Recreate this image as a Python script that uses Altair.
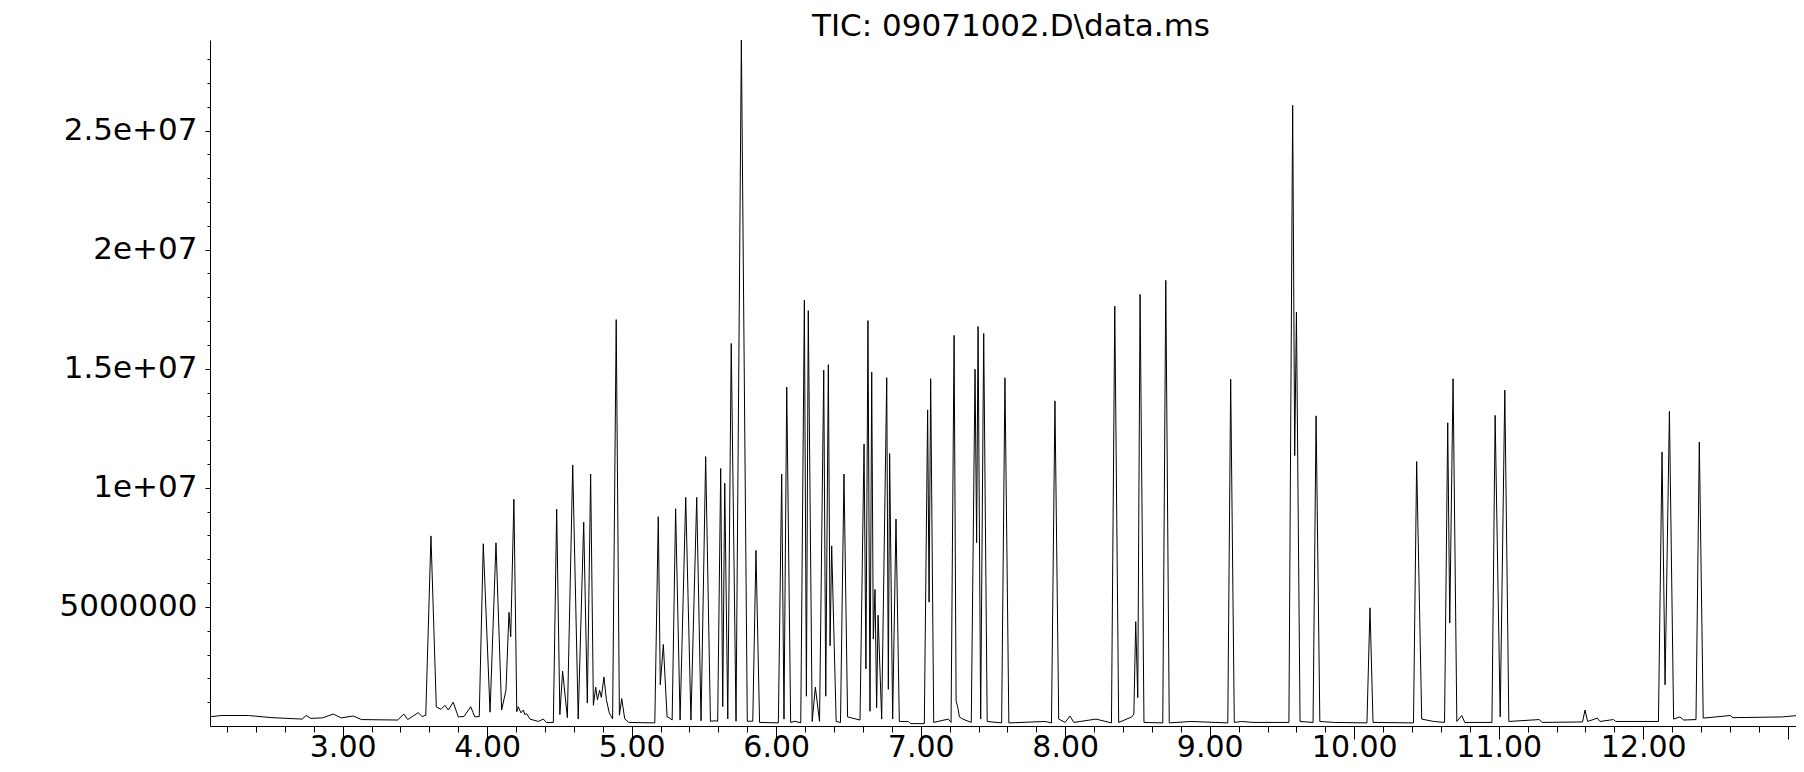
import altair as alt
import pandas as pd

# Peak apexes (retention time in min, TIC in millions of counts)
apex_time = [3.611, 3.973, 4.061, 4.151, 4.185, 4.481, 4.522, 4.592, 4.668, 4.716,
             4.751, 4.778, 4.808, 4.893, 4.931, 5.184, 5.219, 5.304, 5.374, 5.450,
             5.512, 5.616, 5.644, 5.689, 5.759, 5.860, 6.038, 6.073, 6.195, 6.222,
             6.271, 6.329, 6.361, 6.384, 6.469, 6.608, 6.635, 6.661, 6.684, 6.705,
             6.765, 6.785, 6.829, 7.048, 7.069, 7.231, 7.376, 7.397, 7.436, 7.583,
             7.929, 8.343, 8.488, 8.518, 8.696, 9.145, 9.574, 9.600, 9.736, 10.109,
             10.432, 10.647, 10.684, 10.975, 11.042, 12.130, 12.181, 12.388]
apex_tic = [7.98, 7.65, 7.69, 4.77, 9.52, 9.10, 2.30, 10.96, 8.56, 10.58,
            1.63, 1.50, 2.06, 17.06, 1.15, 8.79, 3.42, 9.12, 9.60, 9.60,
            11.31, 10.81, 10.19, 16.06, 28.80, 7.37, 10.58, 14.23, 17.88, 17.44,
            1.63, 14.94, 15.17, 7.56, 10.58, 11.83, 17.02, 14.85, 5.73, 4.65,
            14.62, 11.44, 8.69, 13.27, 14.58, 16.40, 14.98, 16.77, 16.48, 14.62,
            13.65, 17.63, 4.38, 18.12, 18.71, 14.56, 26.06, 17.37, 13.02, 4.96,
            11.10, 12.73, 14.58, 13.04, 14.10, 11.50, 13.21, 11.92]

# Baseline, valleys, peak feet and small bumps (min, millions of counts)
floor_time = [2.07, 2.16, 2.35, 2.51, 2.72, 2.747, 2.78, 2.86, 2.935, 2.99,
              3.073, 3.13, 3.38, 3.424, 3.45, 3.523, 3.55, 3.575, 3.648, 3.68,
              3.708, 3.731, 3.765, 3.80, 3.84, 3.886, 3.915, 3.945, 4.02, 4.10,
              4.13, 4.163, 4.205, 4.215, 4.234, 4.25, 4.261, 4.273, 4.296, 4.354,
              4.389, 4.41, 4.458, 4.503, 4.555, 4.630, 4.693, 4.735, 4.763, 4.790,
              4.825, 4.845, 4.868, 4.915, 4.952, 4.98, 5.16, 5.198, 5.245, 5.26,
              5.28, 5.335, 5.41, 5.48, 5.545, 5.578, 5.595, 5.630, 5.665, 5.722,
              5.80, 5.838, 5.885, 6.015, 6.054, 6.10, 6.13, 6.17, 6.209, 6.249,
              6.30, 6.343, 6.373, 6.415, 6.445, 6.494, 6.58, 6.621, 6.649, 6.672,
              6.695, 6.73, 6.776, 6.806, 6.852, 6.914, 6.93, 7.025, 7.058, 7.09,
              7.191, 7.21, 7.245, 7.257, 7.268, 7.291, 7.35, 7.387, 7.415, 7.46,
              7.56, 7.61, 7.86, 7.905, 7.955, 7.999, 8.033, 8.06, 8.213, 8.32,
              8.37, 8.46, 8.475, 8.502, 8.545, 8.675, 8.72, 8.871, 9.125, 9.17,
              9.221, 9.30, 9.548, 9.588, 9.625, 9.715, 9.762, 9.862, 10.088, 10.13,
              10.41, 10.467, 10.55, 10.625, 10.661, 10.71, 10.744, 10.765, 10.953, 11.010,
              11.07, 11.281, 11.30, 11.58, 11.597, 11.615, 11.682, 11.70, 11.793, 11.81,
              12.105, 12.151, 12.21, 12.253, 12.28, 12.365, 12.415, 12.601, 12.62, 12.958,
              13.07]
floor_tic = [0.38, 0.44, 0.44, 0.35, 0.29, 0.44, 0.32, 0.34, 0.50, 0.34,
             0.42, 0.27, 0.25, 0.50, 0.27, 0.56, 0.40, 0.45, 0.80, 0.70,
             0.87, 0.67, 1.00, 0.38, 0.40, 0.81, 0.38, 0.40, 0.58, 0.67,
             1.50, 3.75, 0.60, 0.81, 0.55, 0.67, 0.48, 0.52, 0.29, 0.19,
             0.29, 0.15, 0.15, 0.48, 0.35, 0.29, 0.96, 0.87, 1.10, 1.20,
             1.10, 0.55, 0.30, 0.45, 0.30, 0.15, 0.13, 1.73, 0.38, 0.35,
             0.25, 0.25, 0.25, 0.22, 0.20, 0.22, 0.20, 0.81, 0.30, 0.20,
             0.20, 0.20, 0.15, 0.13, 0.29, 0.15, 0.20, 0.13, 1.25, 0.19,
             0.19, 1.25, 3.37, 0.19, 0.15, 0.38, 0.25, 2.40, 0.62, 3.65,
             0.77, 0.29, 1.54, 0.29, 0.19, 0.19, 0.10, 0.10, 5.20, 0.15,
             0.29, 0.15, 1.06, 0.77, 0.38, 0.29, 0.15, 7.70, 0.29, 0.19,
             0.13, 0.13, 0.19, 0.13, 0.29, 0.15, 0.42, 0.15, 0.29, 0.13,
             0.15, 0.38, 0.50, 1.19, 0.15, 0.13, 0.13, 0.19, 0.13, 0.15,
             0.19, 0.15, 0.15, 11.35, 0.19, 0.15, 0.19, 0.15, 0.13, 0.15,
             0.13, 0.29, 0.19, 0.15, 4.33, 0.19, 0.44, 0.15, 0.15, 0.38,
             0.19, 0.27, 0.15, 0.17, 0.67, 0.19, 0.33, 0.19, 0.27, 0.19,
             0.19, 1.73, 0.29, 0.38, 0.25, 0.27, 0.33, 0.44, 0.35, 0.38,
             0.44]

x_major = [3, 4, 5, 6, 7, 8, 9, 10, 11, 12, 13]
x_minor = [round(2.2 + 0.2 * i, 1) for i in range(55)]
y_major = [5000000, 10000000, 15000000, 20000000, 25000000]
y_labels = ["5000000", "1e+07", "1.5e+07", "2e+07", "2.5e+07"]
y_minor = [1000000 * i for i in range(1, 29)]

title_text = "TIC: 09071002.D\\data.ms"

df = pd.DataFrame({
    "time": apex_time + floor_time,
    "tic": [v * 1e6 for v in apex_tic + floor_tic],
}).sort_values("time").reset_index(drop=True)
df["order"] = range(len(df))

FONT = "DejaVu Sans"
xscale = alt.Scale(domain=[2.082, 13.057], nice=False, zero=False)
yscale = alt.Scale(domain=[0, 28800000], nice=False, zero=True)

y_label_expr = "{}[indexof({}, datum.value)]".format(
    "[" + ",".join("'" + s + "'" for s in y_labels) + "]",
    "[" + ",".join(str(v) for v in y_major) + "]",
)

line = alt.Chart(df).mark_line(color="black", strokeWidth=1, clip=True).encode(
    x=alt.X("time:Q", scale=xscale, title=None,
            axis=alt.Axis(orient="bottom", values=x_major, grid=False,
                          labelExpr="datum.value > 12.5 ? '' : format(datum.value, '.2f')",
                          tickSize=13, labelPadding=17, labelBaseline="alphabetic",
                          labelFont=FONT, labelFontSize=30, labelColor="black",
                          tickColor="black", domainColor="black", labelFlush=False,
                          labelOverlap=False)),
    y=alt.Y("tic:Q", scale=yscale, title=None,
            axis=alt.Axis(orient="left", values=y_major, grid=False,
                          labelExpr=y_label_expr, tickSize=5, labelPadding=8,
                          labelFont=FONT, labelFontSize=31, labelColor="black",
                          tickColor="black", domainColor="black", labelOverlap=False)),
    order="order:Q",
)

minor = alt.Chart(df).mark_line(opacity=0, clip=True).encode(
    x=alt.X("time:Q", scale=xscale, title=None,
            axis=alt.Axis(orient="bottom", values=x_minor, labels=False, grid=False,
                          domain=False, tickSize=6, tickColor="black")),
    y=alt.Y("tic:Q", scale=yscale, title=None,
            axis=alt.Axis(orient="left", values=y_minor, labels=False, grid=False,
                          domain=False, tickSize=3, tickColor="black")),
    order="order:Q",
)

chart = alt.layer(line, minor).resolve_axis(
    x="independent", y="independent"
).properties(
    width=1586,
    height=686,
    background="white",
    padding={"left": 202, "top": 32, "right": 0, "bottom": 38},
    autosize=alt.AutoSizeParams(type="none"),
    title=alt.TitleParams(title_text, font=FONT, fontSize=31, fontWeight="normal",
                          color="black", anchor="middle", frame="group",
                          offset=0, dx=8, dy=3),
).configure_view(strokeWidth=0)

chart.save("out.html", embed_options={"renderer": "svg", "actions": False})
